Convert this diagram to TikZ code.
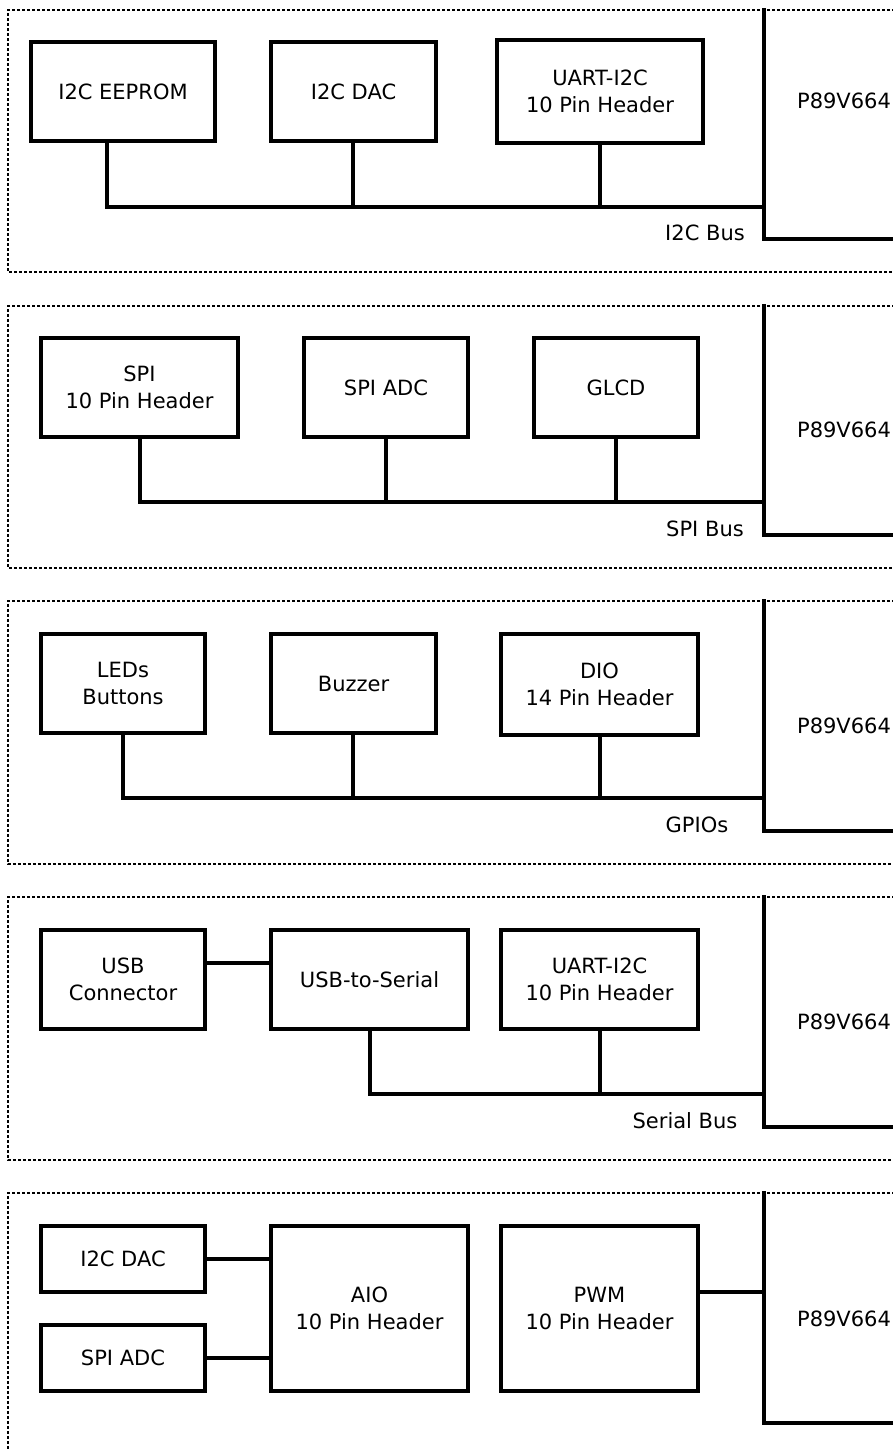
\documentclass[tikz,border=0pt]{standalone}
\usepackage{fontspec}
\setmainfont{DejaVu Sans}
\begin{document}
\begin{tikzpicture}[x=1pt,y=-1pt,
  blk/.style={draw, line width=3.2pt, align=center, inner sep=0pt, font=\fontsize{21}{26.5}\selectfont},
  bus/.style={line width=3.2pt, line cap=rect},
  frame/.style={line width=1.4pt, dash pattern=on 3pt off 2pt},
  lbl/.style={font=\fontsize{21}{26.5}\selectfont, inner sep=0pt}]
\newcommand\mybox[6]{\node[blk, minimum width={(#4-#2)*1pt}, minimum height={(#5-#3)*1pt}] (#1) at ({(#2+#4)/2},{(#3+#5)/2}) {#6};}
\useasboundingbox (0,0) rectangle (893,1449);
\fill[white] (0,0) rectangle (893,1449);
% frames
\foreach \t/\b in {10/272, 306/568, 601/864, 897/1160}{
  \draw[frame] (900,\t) -- (8,\t) -- (8,\b) -- (900,\b);
}
\draw[frame] (900,1193) -- (8,1193) -- (8,1455);
% ---------- panel 1
\mybox{eeprom}{31}{42}{215}{141}{I2C EEPROM}
\mybox{dacA}{271}{42}{436}{141}{I2C DAC}
\mybox{uartA}{497}{40}{703}{143}{UART-I2C\\10 Pin Header}
\coordinate (pt1) at (764,10); \coordinate (pe1) at (900,239); \coordinate (bus1) at (764,207);
\draw[bus] (pt1) |- (pe1);
\node[lbl] (p1) at (844,101) {P89V664};
\draw[bus] ([xshift=-16pt]eeprom.south) |- (bus1);
\draw[bus] ([xshift=-0.5pt]dacA.south) -- ([xshift=-0.5pt]dacA.south |- bus1);
\draw[bus] (uartA.south) -- (uartA.south |- bus1);
\node[lbl] (l1) at (705,233) {I2C Bus};
% ---------- panel 2
\mybox{spih}{41}{338}{238}{437}{SPI\\10 Pin Header}
\mybox{adcB}{304}{338}{468}{437}{SPI ADC}
\mybox{glcd}{534}{338}{698}{437}{GLCD}
\coordinate (pt2) at (764,306); \coordinate (pe2) at (900,535); \coordinate (bus2) at (764,502);
\draw[bus] (pt2) |- (pe2);
\node[lbl] (p2) at (844,430) {P89V664};
\draw[bus] ([xshift=0.5pt]spih.south) |- (bus2);
\draw[bus] (adcB.south) -- (adcB.south |- bus2);
\draw[bus] (glcd.south) -- (glcd.south |- bus2);
\node[lbl] (l2) at (705,529) {SPI Bus};
% ---------- panel 3
\mybox{leds}{41}{634}{205}{733}{LEDs\\Buttons}
\mybox{buzz}{271}{634}{436}{733}{Buzzer}
\mybox{dio}{501}{634}{698}{735}{DIO\\14 Pin Header}
\coordinate (pt3) at (764,601); \coordinate (pe3) at (900,831); \coordinate (bus3) at (764,798);
\draw[bus] (pt3) |- (pe3);
\node[lbl] (p3) at (844,726) {P89V664};
\draw[bus] (leds.south) |- (bus3);
\draw[bus] ([xshift=-0.5pt]buzz.south) -- ([xshift=-0.5pt]buzz.south |- bus3);
\draw[bus] ([xshift=0.5pt]dio.south) -- ([xshift=0.5pt]dio.south |- bus3);
\node[lbl] (l3) at (697,825) {GPIOs};
% ---------- panel 4
\mybox{usb}{41}{930}{205}{1029}{USB\\Connector}
\mybox{u2s}{271}{930}{468}{1029}{USB-to-Serial}
\mybox{uartD}{501}{930}{698}{1029}{UART-I2C\\10 Pin Header}
\coordinate (pt4) at (764,897); \coordinate (pe4) at (900,1127); \coordinate (bus4) at (764,1094);
\draw[bus] (pt4) |- (pe4);
\node[lbl] (p4) at (844,1022) {P89V664};
\draw[bus] ([yshift=16.5pt]usb.east) -- ([yshift=16.5pt]u2s.west |- usb.east);
\draw[bus] ([xshift=0.5pt]u2s.south) |- (bus4);
\draw[bus] ([xshift=0.5pt]uartD.south) -- ([xshift=0.5pt]uartD.south |- bus4);
\node[lbl] (l4) at (685,1121) {Serial Bus};
% ---------- panel 5
\mybox{dacE}{41}{1226}{205}{1292}{I2C DAC}
\mybox{adcE}{41}{1325}{205}{1391}{SPI ADC}
\mybox{aio}{271}{1226}{468}{1391}{AIO\\10 Pin Header}
\mybox{pwm}{501}{1226}{698}{1391}{PWM\\10 Pin Header}
\coordinate (pt5) at (764,1193); \coordinate (pe5) at (900,1423);
\draw[bus] (pt5) |- (pe5);
\node[lbl] (p5) at (844,1319) {P89V664};
\draw[bus] (dacE.east) -- (aio.west |- dacE.east);
\draw[bus] (adcE.east) -- (aio.west |- adcE.east);
\draw[bus] ([yshift=16.5pt]pwm.east) -- ([yshift=16.5pt]pwm.east -| pt5);
\end{tikzpicture}
\end{document}
